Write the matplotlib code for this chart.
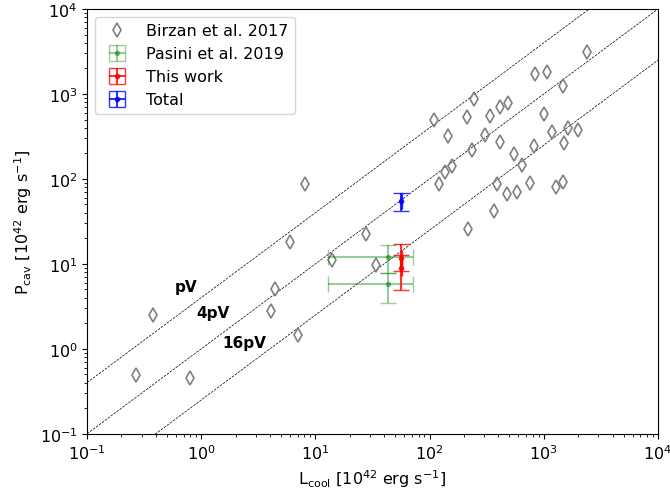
import matplotlib
matplotlib.use("Agg")
import matplotlib.pyplot as plt
import numpy as np

plt.rcParams["font.size"] = 11.5

# Birzan et al. 2017 sample
birzan_lcool = [0.269, 0.376, 0.796, 4.05, 4.41, 6.97, 5.97, 8.18, 14.0, 28.0, 33.6,
                2380, 832, 1060, 1470, 244, 110, 212, 340, 416, 489, 146, 303, 1009,
                410, 233, 1170, 1640, 2000, 1500, 545, 815, 643, 137, 157, 120, 389,
                475, 586, 751, 1290, 1480, 366, 218]
birzan_pcav = [0.494, 2.53, 0.452, 2.78, 4.99, 1.46, 18.3, 87.3, 11.2, 22.2, 9.6,
               3100, 1720, 1830, 1230, 873, 499, 541, 556, 703, 783, 323, 332, 582,
               275, 218, 360, 394, 380, 265, 197, 243, 146, 122, 143, 86, 86,
               66.7, 70.9, 90.3, 79.8, 91.4, 41.7, 25.8]

# Pasini et al. 2019
pasini_lcool = [43.3, 43.3]
pasini_lcool_lo = [12.9, 12.9]
pasini_lcool_hi = [71.6, 71.6]
pasini_pcav = [12.2, 5.8]
pasini_pcav_lo = [7.8, 3.47]
pasini_pcav_hi = [16.7, 7.8]

# this work
this_lcool = [56.5, 56.5]
this_lcool_err = [0.3, 0.3]
this_pcav = [11.7, 9.0]
this_pcav_lo = [8.3, 4.94]
this_pcav_hi = [17.2, 12.8]

# total
total_lcool = [56.5]
total_lcool_err = [0.3]
total_pcav = [55.6]
total_pcav_lo = [42.1]
total_pcav_hi = [68.4]

# Pcav = factor * Lcool lines
line_factors = [4.0, 1.0, 0.25]
line_labels = ["pV", "4pV", "16pV"]
label_pos = [(0.59, 5.4), (0.9, 2.7), (1.52, 1.2)]


def asym(vals, lo, hi):
    vals = np.array(vals)
    return [vals - np.array(lo), np.array(hi) - vals]


fig, ax = plt.subplots(figsize=(6.7, 5.02), dpi=100)
fig.subplots_adjust(left=0.13, right=0.982, bottom=0.134, top=0.98)

xx = np.array([0.1, 1e4])
for f in line_factors:
    ax.plot(xx, f * xx, color="black", linestyle="--", linewidth=0.5)
for lab, (lx, ly) in zip(line_labels, label_pos):
    ax.text(lx, ly, lab, fontsize=11, fontweight="bold", ha="left", va="center")

ax.plot(birzan_lcool, birzan_pcav, linestyle="none", marker="d", markersize=7,
        markerfacecolor="none", markeredgecolor="gray", markeredgewidth=1.2,
        label="Birzan et al. 2017")

ax.errorbar(pasini_lcool, pasini_pcav,
            xerr=asym(pasini_lcool, pasini_lcool_lo, pasini_lcool_hi),
            yerr=asym(pasini_pcav, pasini_pcav_lo, pasini_pcav_hi),
            fmt=".", color="green", alpha=0.4, capsize=6, markersize=6,
            label="Pasini et al. 2019")
ax.errorbar(this_lcool, this_pcav, xerr=this_lcool_err,
            yerr=asym(this_pcav, this_pcav_lo, this_pcav_hi),
            fmt=".", color="red", alpha=0.8, capsize=6, markersize=6,
            label="This work")
ax.errorbar(total_lcool, total_pcav, xerr=total_lcool_err,
            yerr=asym(total_pcav, total_pcav_lo, total_pcav_hi),
            fmt=".", color="blue", alpha=0.8, capsize=6, markersize=6,
            label="Total")

ax.set_xscale("log")
ax.set_yscale("log")
ax.set_xlim(0.1, 1e4)
ax.set_ylim(0.1, 1e4)
ax.set_xlabel(r"L$_{\rm cool}$ [10$^{42}$ erg s$^{-1}$]")
ax.set_ylabel(r"P$_{\rm cav}$ [10$^{42}$ erg s$^{-1}$]")
ax.legend(loc="upper left")

fig.savefig("out.png", dpi=100)
